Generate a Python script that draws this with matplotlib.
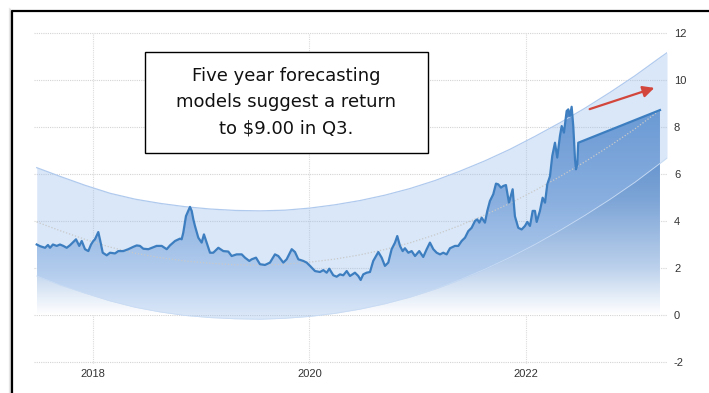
import matplotlib
matplotlib.use("Agg")
import matplotlib.pyplot as plt
import numpy as np
from matplotlib.colors import LinearSegmentedColormap
from matplotlib.patches import Rectangle, FancyArrowPatch
from matplotlib.lines import Line2D

# ---- datos: precio (año decimal, valor) ----
fechas = [2017.480, 2017.510, 2017.557, 2017.584, 2017.603, 2017.630, 2017.665, 2017.695,
          2017.726, 2017.757, 2017.788, 2017.843, 2017.873, 2017.896, 2017.926, 2017.957,
          2017.982, 2018.003, 2018.018, 2018.049, 2018.065, 2018.090, 2018.127, 2018.157,
          2018.203, 2018.234, 2018.280, 2018.326, 2018.372, 2018.404, 2018.434, 2018.465,
          2018.511, 2018.588, 2018.635, 2018.681, 2018.711, 2018.758, 2018.804, 2018.819,
          2018.834, 2018.859, 2018.880, 2018.896, 2018.912, 2018.927, 2018.942, 2018.973,
          2019.004, 2019.025, 2019.050, 2019.081, 2019.111, 2019.158, 2019.204, 2019.250,
          2019.281, 2019.327, 2019.374, 2019.404, 2019.444, 2019.466, 2019.506, 2019.543,
          2019.589, 2019.635, 2019.681, 2019.712, 2019.758, 2019.789, 2019.836, 2019.866,
          2019.897, 2019.943, 2019.974, 2020.005, 2020.051, 2020.097, 2020.128, 2020.159,
          2020.183, 2020.220, 2020.251, 2020.282, 2020.312, 2020.344, 2020.374, 2020.420,
          2020.451, 2020.473, 2020.497, 2020.528, 2020.559, 2020.589, 2020.636, 2020.667,
          2020.697, 2020.728, 2020.759, 2020.790, 2020.811, 2020.836, 2020.861, 2020.882,
          2020.913, 2020.944, 2020.975, 2021.014, 2021.051, 2021.083, 2021.113, 2021.144,
          2021.175, 2021.206, 2021.236, 2021.267, 2021.298, 2021.344, 2021.375, 2021.406,
          2021.437, 2021.467, 2021.498, 2021.529, 2021.550, 2021.569, 2021.591, 2021.621,
          2021.643, 2021.667, 2021.698, 2021.723, 2021.744, 2021.769, 2021.790, 2021.815,
          2021.843, 2021.877, 2021.898, 2021.929, 2021.960, 2021.991, 2022.012, 2022.037,
          2022.062, 2022.083, 2022.099, 2022.129, 2022.154, 2022.176, 2022.197, 2022.222,
          2022.243, 2022.268, 2022.289, 2022.314, 2022.330, 2022.351, 2022.376, 2022.391,
          2022.407, 2022.422, 2022.437, 2022.453, 2022.462, 2022.474, 2022.483]
precio = [3.00, 2.93, 2.86, 2.98, 2.86, 3.00, 2.94, 3.00,
          2.94, 2.86, 2.97, 3.22, 2.94, 3.15, 2.80, 2.72,
          3.00, 3.15, 3.22, 3.53, 3.20, 2.65, 2.54, 2.65,
          2.62, 2.72, 2.72, 2.80, 2.90, 2.96, 2.94, 2.82,
          2.80, 2.94, 2.94, 2.80, 2.96, 3.15, 3.25, 3.22,
          3.50, 4.21, 4.43, 4.60, 4.43, 4.07, 3.79, 3.29,
          3.08, 3.43, 3.08, 2.65, 2.65, 2.86, 2.72, 2.70,
          2.51, 2.58, 2.58, 2.44, 2.30, 2.37, 2.44, 2.16,
          2.13, 2.23, 2.58, 2.51, 2.23, 2.37, 2.80, 2.68,
          2.37, 2.30, 2.23, 2.09, 1.87, 1.83, 1.91, 1.80,
          1.97, 1.69, 1.63, 1.73, 1.69, 1.87, 1.66, 1.80,
          1.66, 1.49, 1.73, 1.80, 1.83, 2.30, 2.68, 2.44,
          2.09, 2.23, 2.80, 3.08, 3.36, 2.94, 2.72, 2.84,
          2.65, 2.72, 2.51, 2.72, 2.47, 2.80, 3.08, 2.80,
          2.65, 2.58, 2.65, 2.58, 2.84, 2.94, 2.94, 3.15,
          3.29, 3.57, 3.71, 4.00, 4.07, 3.93, 4.14, 3.93,
          4.43, 4.85, 5.14, 5.59, 5.56, 5.42, 5.49, 5.53,
          4.78, 5.35, 4.20, 3.71, 3.64, 3.79, 3.96, 3.79,
          4.43, 4.43, 3.96, 4.43, 4.99, 4.78, 5.56, 5.91,
          6.77, 7.33, 6.70, 7.62, 8.04, 7.76, 8.68, 8.75,
          8.47, 8.86, 8.04, 6.63, 6.20, 6.41, 7.33]

# proyección
fecha_proy = [2022.483, 2023.238]
valor_proy = [7.33, 8.72]

# banda de pronóstico
banda_x = [2017.480, 2017.695, 2017.926, 2018.157, 2018.388, 2018.619, 2018.850, 2019.081,
           2019.312, 2019.543, 2019.774, 2020.005, 2020.236, 2020.467, 2020.698, 2020.928,
           2021.159, 2021.390, 2021.621, 2021.852, 2022.083, 2022.314, 2022.545, 2022.776,
           2023.007, 2023.238, 2023.303]
banda_sup = [6.27, 5.90, 5.52, 5.18, 4.93, 4.75, 4.61, 4.51, 4.45, 4.43, 4.46, 4.55, 4.69,
             4.87, 5.10, 5.38, 5.72, 6.12, 6.56, 7.05, 7.60, 8.18, 8.80, 9.47, 10.18, 10.95, 11.16]
banda_inf = [1.66, 1.28, 0.93, 0.60, 0.33, 0.13, -0.02, -0.11, -0.16, -0.18, -0.14, -0.06, 0.07,
             0.25, 0.48, 0.76, 1.10, 1.50, 1.95, 2.45, 3.00, 3.60, 4.24, 4.92, 5.65, 6.45, 6.68]
tend_x = banda_x[:-1]
tend_y = [3.96, 3.59, 3.22, 2.89, 2.63, 2.44, 2.30, 2.20, 2.14, 2.12, 2.16, 2.25, 2.38,
          2.56, 2.79, 3.07, 3.41, 3.81, 4.26, 4.75, 5.30, 5.89, 6.52, 7.20, 7.92, 8.72]

anios = [2018, 2020, 2022]
y_ticks = [-2, 0, 2, 4, 6, 8, 10, 12]

texto = "Five year forecasting\nmodels suggest a return\nto $9.00 in Q3."

######################
## GENERAR GRÁFICA ##
######################
W, H = 709, 393
fig = plt.figure(figsize=(W / 100, H / 100), dpi=100)
ax = fig.add_axes([34 / W, (H - 364.35) / H, 633 / W, 333.7 / H])
ax.set_xlim(2017.455, 2023.303)
ax.set_ylim(-2.1, 12.1)

# área con degradado bajo la línea
xs = fechas + fecha_proy[1:]
ys = precio + valor_proy[1:]
area = ax.fill_between(xs, ys, 0, color='none', lw=0)
cmap = LinearSegmentedColormap.from_list(
    'azul', [(0, '#ffffff'), (0.22, '#bcd1ec'), (0.55, '#7ca4d6'), (1, '#4880c3')])
grad = np.linspace(0, 1, 256).reshape(-1, 1)
img = ax.imshow(grad, cmap=cmap, origin='lower', aspect='auto',
                extent=[xs[0], xs[-1], 0, 9.0], zorder=1)
img.set_clip_path(area.get_paths()[0], transform=ax.transData)

# banda
ax.fill_between(banda_x, banda_inf, banda_sup, color='#9dc0ee', alpha=0.38, lw=0, zorder=2)
ax.plot(banda_x, banda_sup, color='#b0caee', lw=0.9, zorder=2)
ax.plot(banda_x, banda_inf, color='#c8dbf3', lw=0.6, zorder=2)
ax.plot(tend_x, tend_y, color='#c9c9c9', lw=0.9, ls=(0, (1, 1.5)), zorder=3)

# línea de precio
ax.plot(xs, ys, color='#3d7ec0', lw=1.6, zorder=4, solid_joinstyle='round')

# rejilla
for v in y_ticks:
    ax.axhline(v, color='#d4d4d4', lw=0.8, ls=(0, (1, 1)), zorder=0.5)
for a in anios:
    ax.axvline(a, ymin=0.0, ymax=(12 + 2.1) / 14.2, color='#dcdcdc', lw=0.8, ls=(0, (1, 1)), zorder=0.5)

for s in ax.spines.values():
    s.set_visible(False)
ax.yaxis.tick_right()
ax.set_yticks(y_ticks)
ax.set_yticklabels([str(v) for v in y_ticks])
ax.set_xticks(anios)
ax.set_xticklabels([str(a) for a in anios])
ax.tick_params(axis='y', length=0, pad=5, labelsize=8, labelcolor='#333333')
ax.tick_params(axis='x', length=0, pad=3, labelsize=8, labelcolor='#333333')
for lab in ax.get_xticklabels() + ax.get_yticklabels():
    lab.set_fontfamily('Liberation Sans')

# cuadro de texto
fig.patches.append(Rectangle((145 / W, 1 - 153 / H), 283 / W, 101 / H, transform=fig.transFigure,
                             facecolor='white', edgecolor='black', lw=1.0, zorder=5))
fig.text(286.5 / W, 1 - 102 / H, texto, ha='center', va='center', fontsize=13,
         family='DejaVu Sans', linespacing=1.6, color='#111111', zorder=6)

# flecha roja
fig.patches.append(FancyArrowPatch((587 / W, 1 - 110 / H), (657 / W, 1 - 87 / H),
                                   transform=fig.transFigure, arrowstyle='-|>',
                                   mutation_scale=17, color='#d2463c', lw=1.6, zorder=6))

# marco exterior con sombra
for off, al in [(3, 0.15), (2, 0.25), (1, 0.35)]:
    fig.lines.append(Line2D([(12 - off) / W, (12 - off) / W], [0, 1 - (11 - off) / H],
                            transform=fig.transFigure, color='gray', alpha=al, lw=1))
fig.lines.append(Line2D([12 / W, 12 / W, 1], [0, 1 - 11 / H, 1 - 11 / H],
                        transform=fig.transFigure, color='black', lw=1.6))

fig.savefig('out.png', dpi=100)
